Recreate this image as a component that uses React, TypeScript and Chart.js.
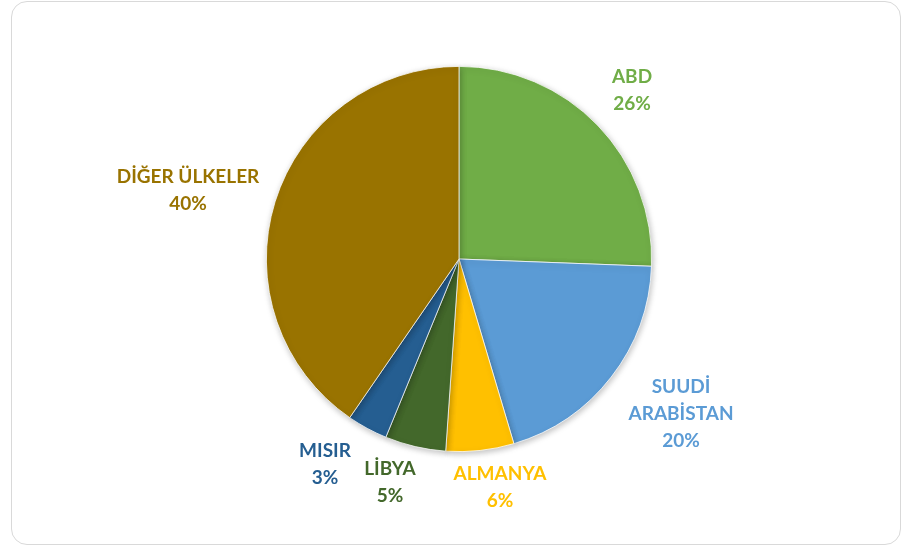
import React, { useEffect, useRef } from "react";
import { Chart, registerables } from "chart.js";

Chart.register(...registerables);

const categories = ["ABD", "SUUDİ ARABİSTAN", "ALMANYA", "LİBYA", "MISIR", "DİĞER ÜLKELER"];
const labelLines = [["ABD"], ["SUUDİ", "ARABİSTAN"], ["ALMANYA"], ["LİBYA"], ["MISIR"], ["DİĞER ÜLKELER"]];
const shares = [25.6, 19.8, 5.7, 5.1, 3.4, 40.4];
const percentLabels = ["26%", "20%", "6%", "5%", "3%", "40%"];
const colors = ["#70AD47", "#5B9BD5", "#FFC000", "#43682B", "#255E91", "#997300"];

// label block centres, relative to pie centre (px)
const labelOffsets = [
  [173, -169],
  [222, 155],
  [41, 228],
  [-69, 223],
  [-134, 205],
  [-271, -69],
];

const labelPlugin = {
  id: "pieLabels",
  beforeDatasetDraw(chart: any) {
    const ctx = chart.ctx;
    ctx.save();
    ctx.shadowColor = "rgba(0,0,0,0.25)";
    ctx.shadowBlur = 6;
    ctx.shadowOffsetX = 1;
    ctx.shadowOffsetY = 2;
  },
  afterDatasetDraw(chart: any) {
    chart.ctx.restore();
  },
  afterDraw(chart: any) {
    const ctx = chart.ctx;
    const meta = chart.getDatasetMeta(0);
    const lineH = 27;
    meta.data.forEach((arc: any, i: number) => {
      const lines = [...labelLines[i], percentLabels[i]];
      const cx = arc.x + labelOffsets[i][0];
      const cy = arc.y + labelOffsets[i][1];
      ctx.save();
      ctx.font = "bold 19px Lato";
      ctx.fillStyle = colors[i];
      ctx.textAlign = "center";
      ctx.textBaseline = "middle";
      const top = cy - ((lines.length - 1) * lineH) / 2;
      lines.forEach((t, k) => ctx.fillText(t, cx, top + k * lineH));
      ctx.restore();
    });
  },
};

export default function App() {
  const ref = useRef<HTMLCanvasElement>(null);
  useEffect(() => {
    if (!ref.current) return;
    const chart = new Chart(ref.current, {
      type: "pie",
      data: {
        labels: categories,
        datasets: [
          {
            data: shares,
            backgroundColor: colors,
            borderColor: "#ffffff",
            borderWidth: 0.75,
          },
        ],
      },
      options: {
        animation: false,
        responsive: false,
        maintainAspectRatio: false,
        layout: { padding: { left: 266, right: 252, top: 66, bottom: 96 } },
        plugins: { legend: { display: false }, tooltip: { enabled: false } },
      },
      plugins: [labelPlugin],
    });
    return () => chart.destroy();
  }, []);
  return (
    <div style={{ position: "fixed", left: 0, top: 0, width: 904, height: 548, background: "#fff" }}>
      <div
        style={{
          position: "absolute",
          left: 11,
          top: 1,
          width: 904 - 11 - 2 - 3,
          height: 546 - 1 - 3,
          border: "1.5px solid #d9d9d9",
          borderRadius: 16,
        }}
      />
      <canvas ref={ref} width={904} height={548} style={{ position: "absolute", left: 0, top: 0 }} />
    </div>
  );
}
